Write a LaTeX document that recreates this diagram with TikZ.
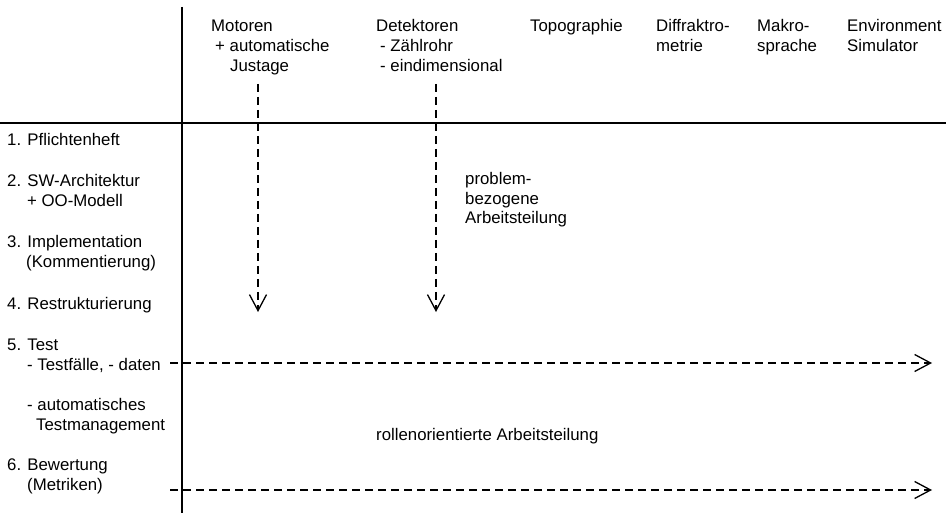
\documentclass[tikz,border=0pt]{standalone}
\usepackage{fontspec}
\setmainfont{Liberation Sans}
\usetikzlibrary{arrows.meta}
\tikzset{
  lbl/.style={anchor=base west,inner sep=0pt,font=\fontsize{16.8}{20}\selectfont},
  axis/.style={line width=1.6pt},
  flow/.style={line width=1.3pt,dash pattern=on 8pt off 5pt,-{Straight Barb[length=16pt,width=17pt,line width=1.3pt]}}
}
\begin{document}
\begin{tikzpicture}[x=1pt,y=-1pt]
\useasboundingbox (0,0) rectangle (951,513);
% axes
\coordinate (vtop) at (182,7);
\coordinate (vbot) at (182,513);
\coordinate (hl) at (0,123);
\coordinate (hr) at (946,123);
\draw[axis] (vtop) -- (vbot);
\draw[axis] (hl) -- (hr);
% column headers
\node[lbl] (m1) at (211,32) {Motoren};
\node[lbl] (m2) at (215,52) {+ automatische};
\node[lbl] (m3) at (230,72) {Justage};
\node[lbl] (d1) at (376,32) {Detektoren};
\node[lbl] (d2) at (380,52) {- Zählrohr};
\node[lbl] (d3) at (380,72) {- eindimensional};
\node[lbl] (t1) at (530,32) {Topographie};
\node[lbl] (f1) at (656,32) {Diffraktro-};
\node[lbl] (f2) at (656,52) {metrie};
\node[lbl] (k1) at (757,32) {Makro-};
\node[lbl] (k2) at (757,52) {sprache};
\node[lbl] (e1) at (847,32) {Environment};
\node[lbl] (e2) at (847,52) {Simulator};
% row labels
\node[lbl] (r1) at (7,146) {1. Pflichtenheft};
\node[lbl] (r2) at (7,187) {2. SW-Architektur};
\node[lbl] (r2b) at (27,207) {+ OO-Modell};
\node[lbl] (r3) at (7,248) {3. Implementation};
\node[lbl] (r3b) at (26,268) {(Kommentierung)};
\node[lbl] (r4) at (7,309) {4. Restrukturierung};
\node[lbl] (r5) at (7,350) {5. Test};
\node[lbl] (r5b) at (27,370) {- Testfälle, - daten};
\node[lbl] (r5c) at (27,410) {- automatisches};
\node[lbl] (r5d) at (36,430) {Testmanagement};
\node[lbl] (r6) at (7,470) {6. Bewertung};
\node[lbl] (r6b) at (27,490) {(Metriken)};
% annotations
\node[lbl] (p1) at (465,185) {problem-};
\node[lbl] (p2) at (465,205) {bezogene};
\node[lbl] (p3) at (465,224) {Arbeitsteilung};
\node[lbl] (ro) at (376,440) {rollenorientierte Arbeitsteilung};
% dashed arrows
\coordinate (a1s) at (258,84);
\coordinate (a1e) at (258,312);
\coordinate (a2s) at (436,84);
\coordinate (a2e) at (436,312);
\coordinate (b1s) at (170,363);
\coordinate (b1e) at (932,363);
\coordinate (b2s) at (170,490);
\coordinate (b2e) at (932,490);
\draw[flow] (a1s) -- (a1e);
\draw[flow] (a2s) -- (a2e);
\draw[flow] (b1s) -- (b1e);
\draw[flow] (b2s) -- (b2e);
\end{tikzpicture}
\end{document}
